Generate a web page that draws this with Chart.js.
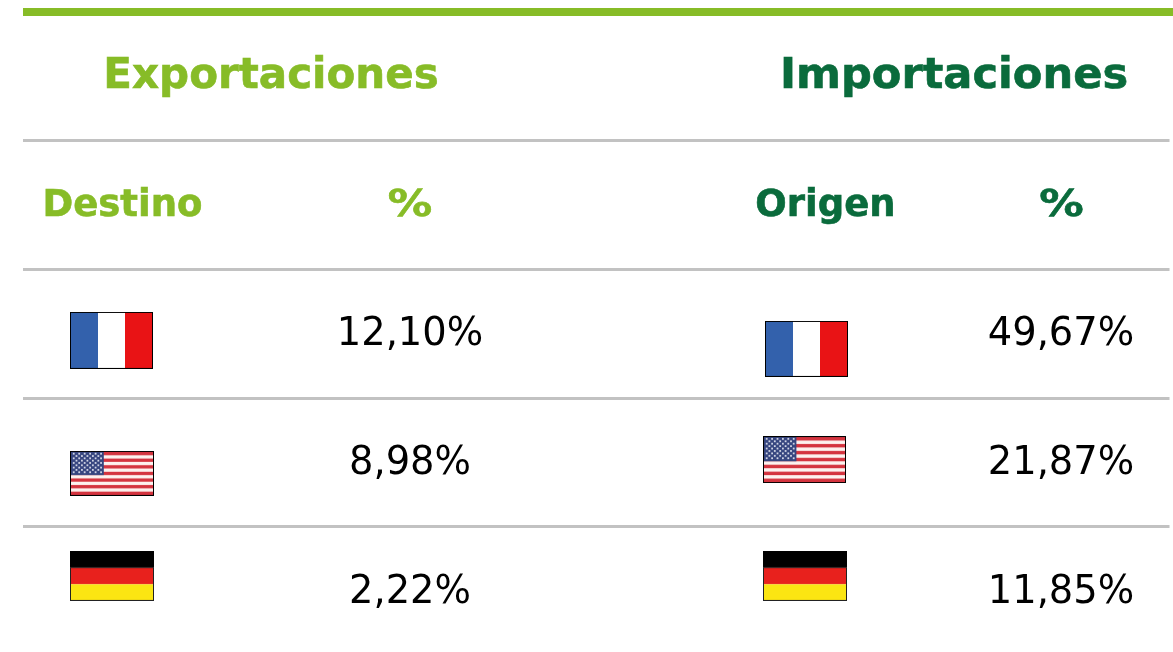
<!DOCTYPE html>
<html lang="es">
<head>
<meta charset="utf-8">
<title>Exportaciones e importaciones</title>
<script src="https://cdn.jsdelivr.net/npm/chart.js@4"></script>
<style>
    html, body { margin: 0; background: #fff; }
    canvas { display: block; }
</style>
</head>
<body>
<canvas id="tablaChart" width="1173" height="652"></canvas>
<script>
// Datos
const tableTitles = ['Exportaciones', 'Importaciones'];
const columnHeaders = ['Destino', '%', 'Origen', '%'];
const countries = ['Francia', 'Estados Unidos', 'Alemania'];
const exportValues = [12.10, 8.98, 2.22];
const importValues = [49.67, 21.87, 11.85];

// Colores
const lightGreen = '#87bc27';
const darkGreen = '#0a6b3c';
const rowLine = '#c2c2c2';

// Posición de las columnas (eje x) y desplazamiento de cada bandera en su fila
const titleX = [271, 954];
const headerX = [122.5, 410, 825.5, 1061.5];
const valueX = [410, 1061];
const valueRowY = [2.512, 3.512, 4.512];
const flagX = [[111.5, 112, 112], [806.5, 804.5, 805]];
const flagRowY = [[2.551, 3.584, 4.38], [2.617, 3.476, 4.38]];
const flagSize = [[[83, 57], [84, 45], [84, 50]], [[83, 56], [83, 47], [84, 50]]];

// Banderas dibujadas en un canvas aparte, usadas como pointStyle
function makeFlag(country, w, h) {
    const c = document.createElement('canvas');
    c.width = w;
    c.height = h;
    const g = c.getContext('2d');
    if (country === 'Francia') {
        const third = (w - 2) / 3;
        g.fillStyle = '#3361ac';
        g.fillRect(1, 1, third, h - 2);
        g.fillStyle = '#ffffff';
        g.fillRect(1 + third, 1, third, h - 2);
        g.fillStyle = '#e91315';
        g.fillRect(1 + third * 2, 1, third, h - 2);
        g.strokeStyle = '#000';
        g.strokeRect(0.5, 0.5, w - 1, h - 1);
    } else if (country === 'Alemania') {
        const band = h / 3;
        g.fillStyle = '#000000';
        g.fillRect(0, 0, w, band);
        g.fillStyle = '#e8211d';
        g.fillRect(0, band, w, band);
        g.fillStyle = '#fbe512';
        g.fillRect(0, band * 2, w, band);
        g.strokeStyle = '#222';
        g.strokeRect(0.5, band, w - 1, band * 2 - 0.5);
    } else {
        const stripe = (h - 2) / 13;
        g.fillStyle = '#fdf3f0';
        g.fillRect(1, 1, w - 2, h - 2);
        g.fillStyle = '#d4343f';
        for (let i = 0; i < 13; i += 2) {
            g.fillRect(1, 1 + i * stripe, w - 2, stripe);
        }
        const cantonW = (w - 2) * 0.4;
        const cantonH = stripe * 7;
        g.fillStyle = '#36457f';
        g.fillRect(1, 1, cantonW, cantonH);
        g.fillStyle = '#d5d9e8';
        for (let r = 0; r < 9; r++) {
            const n = r % 2 ? 5 : 6;
            for (let s = 0; s < n; s++) {
                const sx = 1 + (s + (r % 2 ? 1 : 0.5)) * cantonW / 6;
                const sy = 1 + (r + 0.75) * cantonH / 10;
                g.fillRect(sx - 0.9, sy - 0.9, 1.8, 1.8);
            }
        }
        g.strokeStyle = '#000';
        g.strokeRect(0.5, 0.5, w - 1, h - 1);
    }
    return c;
}

const percent = v => v.toFixed(2).replace('.', ',') + '%';

function flagPoints(side) {
    return countries.map((name, i) => ({ x: flagX[side][i], y: flagRowY[side][i] }));
}

function flagStyles(side) {
    return countries.map((name, i) => makeFlag(name, flagSize[side][i][0], flagSize[side][i][1]));
}

function textDataset(labels, xs, row, colors, font, weight, stretch) {
    return {
        data: labels.map((t, i) => ({ x: xs[i], y: Array.isArray(row) ? row[i] : row })),
        labels: labels,
        textColors: colors,
        textFont: font,
        textWeight: weight,
        textStretch: stretch,
        pointRadius: 0
    };
}

// Escribe los textos de cada dataset en la posición que da la escala
const cellText = {
    id: 'cellText',
    afterDatasetsDraw(chart) {
        const ctx = chart.ctx;
        chart.data.datasets.forEach((ds, d) => {
            if (!ds.labels) return;
            chart.getDatasetMeta(d).data.forEach((pt, i) => {
                ctx.save();
                ctx.translate(pt.x, pt.y);
                ctx.scale(ds.textStretch ? ds.textStretch[i] : 1, 1);
                ctx.font = ds.textFont;
                ctx.textAlign = 'center';
                ctx.textBaseline = 'middle';
                ctx.fillStyle = ds.textColors[i];
                ctx.fillText(ds.labels[i], 0, 0);
                if (ds.textWeight) {
                    // el original es más grueso que DejaVu Bold
                    ctx.strokeStyle = ds.textColors[i];
                    ctx.lineWidth = ds.textWeight;
                    ctx.strokeText(ds.labels[i], 0, 0);
                }
                ctx.restore();
            });
        });
    }
};

const ctx = document.getElementById('tablaChart').getContext('2d');
new Chart(ctx, {
    type: 'scatter',
    data: {
        datasets: [
            // Línea verde superior
            {
                type: 'line',
                data: [{ x: 23, y: 0 }, { x: 1173, y: 0 }],
                borderColor: lightGreen,
                borderWidth: 8,
                borderCapStyle: 'butt',
                pointRadius: 0,
                clip: false
            },
            textDataset(tableTitles, titleX, 0.505, [lightGreen, darkGreen], 'bold 42px "DejaVu Sans"', 0.6, [1, 1.027]),
            textDataset(columnHeaders, headerX, 1.512, [lightGreen, lightGreen, darkGreen, darkGreen], 'bold 37px "DejaVu Sans"', 0.6, [1, 1.2, 1, 1.2]),
            textDataset(exportValues.map(percent), [valueX[0], valueX[0], valueX[0]], valueRowY, ['#000', '#000', '#000'], '38.4px "DejaVu Sans"'),
            textDataset(importValues.map(percent), [valueX[1], valueX[1], valueX[1]], valueRowY, ['#000', '#000', '#000'], '38.4px "DejaVu Sans"'),
            { data: flagPoints(0), pointStyle: flagStyles(0), pointRadius: 10 },
            { data: flagPoints(1), pointStyle: flagStyles(1), pointRadius: 10 }
        ]
    },
    options: {
        responsive: false,
        animation: false,
        layout: { autoPadding: false, padding: { left: 23, right: 3.5, top: 12, bottom: 0 } },
        plugins: { legend: { display: false }, tooltip: { enabled: false } },
        scales: {
            x: {
                type: 'linear',
                min: 23,
                max: 1169.5,
                grid: { display: false, drawTicks: false },
                border: { display: false },
                ticks: { display: false }
            },
            y: {
                type: 'linear',
                reverse: true,
                min: 0,
                max: 4.971,
                afterBuildTicks: axis => { axis.ticks = [1, 2, 3, 4].map(v => ({ value: v })); },
                grid: { drawTicks: false, color: rowLine, lineWidth: 3 },
                border: { display: false },
                ticks: { display: false }
            }
        }
    },
    plugins: [cellText]
});
</script>
</body>
</html>
